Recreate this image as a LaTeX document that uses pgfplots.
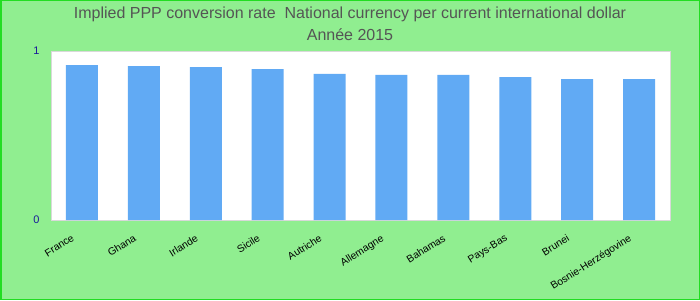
\documentclass[border=0pt]{standalone}
\usepackage{fontspec}
\setmainfont{Liberation Sans}
\usepackage{pgfplots}
\pgfplotsset{compat=1.18}
\definecolor{bg}{HTML}{90EE90}
\definecolor{frame}{HTML}{22DD22}
\definecolor{barc}{HTML}{61AAF4}
\definecolor{titlec}{HTML}{555555}
\definecolor{tickc}{HTML}{1A1A9A}
\begin{document}
\begin{tikzpicture}
\fill[bg] (0pt,0pt) rectangle (700pt,300pt);
\draw[frame, line width=1.5pt] (0.75pt,0.75pt) rectangle (699.25pt,299.25pt);
\begin{axis}[at={(51pt,80pt)}, anchor=south west, scale only axis,
  width=619pt, height=169pt,
  ymin=0, ymax=1, xmin=-0.5, xmax=9.5,
  ytick={0,1}, xtick=data,
  xticklabels={France,Ghana,Irlande,Sicile,Autriche,Allemagne,Bahamas,Pays-Bas,Brunei,Bosnie-Herzégovine},
  axis background/.style={fill=white},
  axis line style={draw=black!15, line width=1pt},
  tick style={draw=none},
  /pgf/number format/assume math mode=true,
  x tick label style={rotate=32, anchor=north east, font=\fontsize{10.3}{12}\selectfont, text=black, xshift=-11pt, yshift=1pt},
  y tick label style={font=\fontsize{11}{13}\selectfont, text=tickc, xshift=-8pt},
  ybar, bar width=32pt,
]
\addplot[fill=barc, draw=none] coordinates {
(0,0.917) (1,0.911) (2,0.905) (3,0.893) (4,0.864)
(5,0.858) (6,0.858) (7,0.846) (8,0.834) (9,0.834)};
\end{axis}
\node[text=titlec, font=\fontsize{16}{18}\selectfont] at (350pt,286pt) {Implied PPP conversion rate\ \ National currency per current international dollar};
\node[text=titlec, font=\fontsize{16}{18}\selectfont] at (350pt,265pt) {Année 2015};
\end{tikzpicture}
\end{document}
